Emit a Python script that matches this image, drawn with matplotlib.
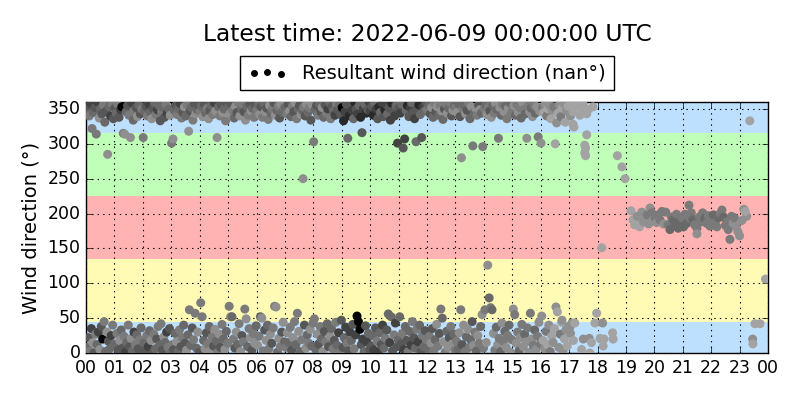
import matplotlib
matplotlib.use("Agg")
import matplotlib.pyplot as plt
import numpy as np

# ---------------- data ----------------
# Dense part of the day: one string per hour, tokens "direction/grayshade" in time order
dense_hours = list(range(17))
dense_obs = [
    "348/4 8/4 355/3 22/3 340/5 3/5 358/2 35/2 322/5 15/6 345/4 0/3 352/3 27/5 314/5 12/4 360/2 30/2 337/6 5/6 350/4 38/3 343/3 20/0 356/5 45/5 331/4 2/4 347/3 30/6 285/6 17/3 353/4 6/4 340/2 25/2 358/5 40/5 336/3 13/4",
    "351/3 10/4 344/4 28/5 357/5 4/3 338/3 18/6 349/2 33/4 353/0 7/3 315/5 24/5 314/6 1/2 346/4 15/4 355/3 40/5 341/5 9/3 309/6 21/6 359/2 3/4 334/4 30/2 348/5 12/5 352/3 26/4 339/6 6/3 356/4 19/5 343/3 36/4 350/5 2/3",
    "309/5 14/4 347/4 3/3 354/3 25/5 340/5 9/2 357/2 32/4 345/4 18/6 336/6 1/3 351/3 27/5 359/4 6/4 342/5 20/3 349/2 38/5 355/4 11/4 333/3 42/5 346/5 4/3 352/4 23/6 338/3 15/4 357/5 30/2 344/2 8/5 350/4 35/3 341/6 0/4",
    "301/5 12/5 307/6 5/3 348/4 28/4 355/3 16/6 342/5 2/4 350/4 33/5 358/2 9/3 337/5 22/5 345/3 40/4 353/6 14/3 340/4 4/6 356/5 26/4 318/6 62/5 347/3 11/4 352/4 36/3 334/5 19/5 358/3 57/5 343/6 7/4 349/4 30/6 355/3 1/3",
    "346/5 72/5 354/4 52/5 339/6 18/4 357/3 6/6 344/4 29/3 351/5 13/5 336/6 38/4 348/3 3/6 355/4 23/5 342/5 10/3 359/2 34/6 347/6 17/4 309/6 1/5 353/4 27/6 340/5 8/3 356/3 41/5 345/6 20/4 350/4 5/6 333/5 31/4 358/3 14/5",
    "352/4 67/5 343/6 52/6 357/3 52/4 348/5 20/5 337/4 7/3 354/6 30/6 345/3 12/4 359/5 42/5 340/6 2/6 350/4 25/3 356/5 16/5 346/3 63/5 334/6 49/6 353/4 9/4 341/5 35/5 358/3 22/6 347/6 4/3 351/4 28/5 338/5 14/6 355/3 39/4",
    "349/5 11/6 356/4 24/5 342/6 52/4 353/3 50/6 338/5 3/5 358/4 33/3 346/6 18/6 351/3 40/4 335/5 6/5 355/6 27/6 344/4 14/3 350/5 36/5 359/3 67/5 341/6 66/6 348/4 1/4 354/5 21/6 337/3 9/5 357/6 30/3 345/4 44/6 352/5 16/4",
    "351/4 8/5 343/5 29/6 357/3 15/4 347/6 37/5 339/4 4/3 354/5 22/6 346/3 45/5 359/6 12/4 336/5 57/5 350/4 31/6 355/3 2/4 342/6 19/5 348/4 250/6 353/5 40/3 340/3 7/6 357/6 26/4 345/4 14/5 352/5 34/6 334/3 10/4 356/6 43/5",
    "303/5 49/5 349/4 5/4 355/3 27/6 341/5 13/3 358/4 38/5 346/3 20/4 352/6 2/6 338/4 31/3 356/3 16/5 344/5 42/4 350/2 9/3 359/4 24/6 336/5 35/4 353/3 6/5 347/4 18/3 341/2 44/5 357/5 11/4 349/3 29/2 355/4 1/5 342/3 47/3",
    "352/0 8/3 333/1 22/4 346/2 37/2 357/3 14/5 308/4 3/3 340/1 30/2 354/3 18/4 348/2 41/3 336/4 6/5 359/1 26/2 350/3 53/0 343/2 45/0 355/4 34/0 338/1 12/3 316/3 20/2 351/2 2/4 357/4 39/3 344/1 16/2 349/3 28/4 360/2 5/3",
    "347/2 10/3 354/3 25/4 341/1 4/2 357/4 36/3 350/2 17/5 336/3 1/2 353/1 29/4 345/4 12/3 359/2 40/2 339/3 7/4 349/1 21/5 356/2 33/3 343/4 56/4 352/3 15/2 334/2 52/4 358/1 3/3 347/3 26/5 340/2 43/2 355/4 9/3 301/2 19/4",
    "351/3 52/4 344/2 13/3 357/4 28/5 294/3 5/2 307/2 38/4 348/4 18/3 355/1 2/5 339/3 31/4 352/2 11/2 359/4 45/5 345/3 22/3 336/2 7/4 303/4 34/5 350/3 16/2 356/1 40/4 342/4 1/3 309/3 25/5 353/2 9/4 347/4 32/3 358/3 19/5",
    "349/5 6/4 356/4 24/5 343/3 14/6 352/6 35/3 338/4 3/5 358/5 19/4 346/3 41/6 353/6 10/5 341/4 28/3 355/5 63/5 347/6 50/4 335/4 16/6 350/3 1/5 357/5 31/4 344/6 8/6 351/4 22/3 359/5 38/5 340/3 13/6 348/6 27/4 354/4 4/5",
    "352/5 17/5 345/6 5/4 357/4 29/6 339/3 62/5 280/6 12/3 350/5 40/6 355/4 2/5 343/6 23/4 348/3 34/6 358/5 8/5 336/4 19/4 353/6 45/3 297/5 11/6 346/4 30/5 351/6 3/4 341/5 25/6 356/3 14/5 349/6 38/4 344/4 55/6 296/5 7/5",
    "350/5 62/5 356/4 15/6 342/6 126/6 353/5 79/4 347/3 65/5 338/6 62/4 355/4 28/6 344/5 4/5 358/6 37/4 349/4 12/6 308/5 21/5 352/6 2/4 341/4 43/6 357/5 17/5 346/6 31/4 354/4 8/6 336/5 25/5 351/6 40/4 359/4 1/6 343/5 19/5",
    "348/5 63/6 355/6 55/5 341/4 14/6 357/5 30/5 345/6 3/4 352/5 22/6 337/4 41/5 359/6 9/6 349/5 27/4 343/4 16/6 308/6 36/5 354/5 1/6 346/6 57/5 351/4 20/6 339/6 11/5 356/5 33/4 344/4 5/6 353/6 24/5 310/5 44/6 347/6 13/5",
    "301/6 53/6 352/5 18/7 345/7 6/6 357/6 31/5 340/5 12/7 350/7 40/6 355/6 2/5 336/7 24/7 348/6 15/6 353/5 35/7 300/7 66/6 330/6 59/7 344/7 8/6 356/6 27/5 339/5 44/7 351/7 3/6 358/6 20/7 331/7 33/6 347/6 10/7 354/7 38/6",
]

# Sparse observations in the evening (hour, direction, grayshade)
sparse_time = [16.75, 17.03, 17.05, 17.1, 17.14, 17.14, 17.17, 17.2, 17.25, 17.38, 17.45, 17.5,
               17.62, 17.67, 17.62, 17.84, 17.55, 17.58, 17.55, 17.58, 18.7, 18.86, 18.97, 18.15,
               17.0, 17.05, 17.1, 17.15, 17.2, 17.44, 17.5, 17.71, 17.79, 17.73, 17.91, 17.97,
               18.09, 18.18, 18.23, 18.2, 18.53, 18.55,
               23.36, 23.54, 23.72, 23.46, 23.47, 23.91]
sparse_dir = [47, 37, 340, 356, 346, 328, 324, 353, 358, 341, 350, 356,
              343, 349, 313, 353, 298, 294, 287, 283, 283, 267, 250, 151,
              38, 28, 43, 18, 43, 5, 20, 21, 15, 0, 43, 57,
              21, 43, 20, 10, 29, 20,
              333, 42, 42, 20, 13, 106]
sparse_gray = [6, 6, 6, 7, 7, 7, 7, 7, 7, 7, 7, 7,
               7, 7, 7, 7, 7, 7, 7, 7, 7, 7, 7, 7,
               6, 6, 6, 7, 7, 7, 6, 6, 7, 7, 7, 7,
               7, 6, 7, 7, 7, 7,
               7, 7, 7, 6, 7, 7]

# Southerly cluster 19-23 h
cluster_time = [19.18, 19.25, 19.3, 19.35, 19.4, 19.48, 19.56, 19.62, 19.67, 19.75, 19.8, 19.85,
                19.91, 19.95, 20.02, 20.08, 20.13, 20.2, 20.27, 20.33, 20.4, 20.48, 20.55, 20.6,
                20.66, 20.72, 20.78, 20.84, 20.9, 20.97, 21.03, 21.08, 21.14, 21.22, 21.26, 21.3,
                21.36, 21.42, 21.5, 21.5, 21.58, 21.64, 21.7, 21.77, 21.84, 21.9, 21.96, 22.02,
                22.08, 22.14, 22.2, 22.26, 22.32, 22.38, 22.44, 22.5, 22.55, 22.6, 22.66, 22.72,
                22.77, 22.82, 22.88, 22.94, 23.0, 23.08, 23.15, 23.25, 23.2]
cluster_dir = [204, 191, 184, 186, 196, 181, 202, 188, 191, 198, 185, 208,
               201, 191, 194, 187, 198, 191, 203, 185, 202, 184, 177, 195,
               191, 186, 199, 179, 188, 194, 181, 199, 186, 212, 193, 201,
               191, 184, 179, 171, 195, 188, 201, 193, 186, 197, 182, 191,
               198, 187, 181, 194, 200, 205, 195, 183, 188, 177, 163, 196,
               186, 194, 181, 174, 168, 190, 206, 196, 203]
cluster_gray = [7, 7, 7, 7, 6, 7, 6, 6, 6, 5, 6, 6,
                5, 6, 5, 6, 5, 5, 5, 6, 5, 5, 4, 5,
                4, 4, 5, 4, 4, 5, 4, 5, 4, 5, 5, 5,
                4, 5, 5, 6, 5, 5, 5, 4, 5, 5, 5, 5,
                4, 5, 5, 4, 5, 5, 4, 5, 5, 5, 5, 5,
                6, 5, 6, 6, 6, 6, 6, 6, 7]

# grey level for each shade digit
gray_levels = [0.02, 0.16, 0.26, 0.34, 0.41, 0.48, 0.56, 0.64]

tick_hours = list(range(25))
tick_labels = ["%02d" % (h % 24) for h in tick_hours]

bands = [(0, 45, "#bee0ff"), (45, 135, "#fffbb4"), (135, 225, "#ffb3b3"),
         (225, 315, "#bfffb7"), (315, 360, "#bee0ff")]

# ---------------- assemble ----------------
t_all, d_all, g_all = [], [], []
for h, s in zip(dense_hours, dense_obs):
    toks = s.split()
    n = len(toks)
    for i, tok in enumerate(toks):
        d, g = tok.split("/")
        t_all.append(h + (i + 0.5) / n)
        d_all.append(float(d))
        g_all.append(int(g))
t_all += sparse_time + cluster_time
d_all += sparse_dir + cluster_dir
g_all += sparse_gray + cluster_gray
cols = [(gray_levels[g],) * 3 for g in g_all]

# ---------------- plot ----------------
plt.style.use("classic")
plt.rcParams["font.family"] = ["DejaVu Sans"]
fig = plt.figure(figsize=(8, 4), dpi=100, facecolor="white")
ax = fig.add_axes([0.1075, 0.1175, 0.8525, 0.6275])

for lo, hi, c in bands:
    ax.axhspan(lo, hi, color=c, zorder=0, lw=0)

sc = ax.scatter(t_all, d_all, c=cols, s=42, edgecolors="none", zorder=3,
                label="Resultant wind direction (nan°)")

ax.set_xlim(0, 24)
ax.set_ylim(0, 360)
ax.set_xticks(tick_hours)
ax.set_xticklabels(tick_labels)
ax.set_yticks(range(0, 351, 50))
ax.tick_params(labelsize=12.5)
ax.grid(True, color="k", linestyle=":", linewidth=0.8, zorder=1)
ax.set_axisbelow(False)
ax.set_ylabel("Wind direction (°)", fontsize=14)

leg = ax.legend(loc="lower center", bbox_to_anchor=(0.5, 1.0), fontsize=14,
                scatterpoints=3, frameon=True, fancybox=False, borderaxespad=0.6)
for hdl in leg.legend_handles:
    hdl.set_facecolor("k")
    hdl.set_edgecolor("k")
    hdl.set_sizes([16])
ax.set_title("Latest time: 2022-06-09 00:00:00 UTC", fontsize=16.8, pad=44)

fig.savefig("out.png", dpi=100, facecolor="white")
